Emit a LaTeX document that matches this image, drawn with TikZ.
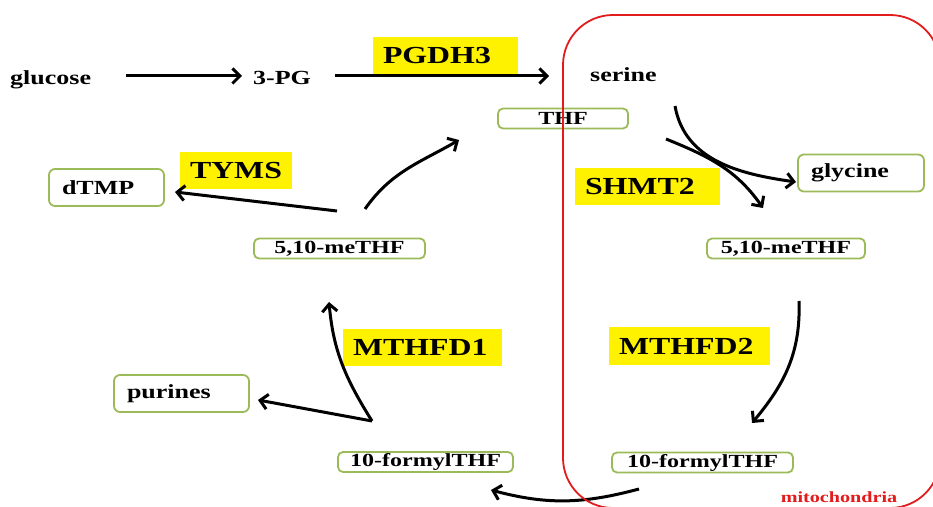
\documentclass[tikz,border=0pt]{standalone}
\usepackage{fontspec}
\setmainfont{Liberation Serif}[FakeStretch=1.3]
\usetikzlibrary{arrows.meta}
\definecolor{boxgreen}{RGB}{155,187,89}
\definecolor{mitored}{RGB}{226,28,28}

\tikzset{
metab/.style={font=\bfseries\fontsize{20}{24}\selectfont, inner sep=0pt, anchor=base west},
pool/.style={draw=boxgreen, line width=1.8pt, rounded corners=5pt, font=\bfseries\fontsize{18.5}{22}\selectfont, inner sep=1pt, minimum height=20pt},
endbox/.style={draw=boxgreen, line width=1.8pt, rounded corners=6pt, font=\bfseries\fontsize{20}{24}\selectfont, inner xsep=13pt, inner ysep=0pt, align=left, minimum height=37pt},
enzyme/.style={fill=yellow, font=\bfseries\fontsize{24.5}{28}\selectfont, inner xsep=10pt, inner ysep=0pt, align=left, minimum height=37pt},
flow/.style={line width=3pt, -{Straight Barb[length=7.5pt,width=15pt]}},
}

\begin{document}
\begin{tikzpicture}[x=1pt, y=1pt]
\useasboundingbox (0,0) rectangle (933,506);

% metabolites
\node[metab] (glucose) at (10,421) {glucose};
\node[metab] (pg) at (253,421) {3-PG};
\node[metab] (serine) at (590,424) {serine};
\node[pool, minimum width=130pt] (thf) at (563,387.5) {THF};
\node[endbox, text width=100pt] (glycine) at (861,333) {glycine};
\node[endbox, text width=89pt] (dtmp) at (106.5,318.5) {dTMP};
\node[endbox, text width=109pt] (purines) at (181.5,112.5) {purines};
\node[pool, minimum width=171pt] (methfcyt) at (339.5,257.5) {5,10-meTHF};
\node[pool, minimum width=158pt] (methfmit) at (786,257.5) {5,10-meTHF};
\node[pool, minimum width=175pt] (fthfcyt) at (425.5,44) {10-formylTHF};
\node[pool, minimum width=181pt] (fthfmit) at (702.5,43.5) {10-formylTHF};

% enzymes
\node[enzyme, text width=125pt] (pgdh) at (445.5,450.5) {PGDH3};
\node[enzyme, text width=92pt] (tyms) at (236,335) {TYMS};
\node[enzyme, text width=125pt] (shmt) at (647.5,319) {SHMT2};
\node[enzyme, text width=139pt] (mthfdone) at (422.5,158.5) {MTHFD1};
\node[enzyme, text width=141pt] (mthfdtwo) at (689.5,160) {MTHFD2};

% arrow ends
\coordinate (glu-out) at (126,430);
\coordinate (pg-in) at (242,430);
\coordinate (pg-out) at (335,430);
\coordinate (ser-in) at (549,430);
\coordinate (ser-out) at (675,400);
\coordinate (gly-in) at (796,324);
\coordinate (thf-out) at (666,367);
\coordinate (methfmit-in) at (763,298);
\coordinate (methfmit-out) at (799,205);
\coordinate (fthfmit-in) at (752,83);
\coordinate (fthfmit-out) at (639,17);
\coordinate (fthfcyt-in) at (491,16);
\coordinate (fthfcyt-out) at (372,85);
\coordinate (methfcyt-in) at (329,204);
\coordinate (pur-in) at (258,106);
\coordinate (methfcyt-out) at (337,295);
\coordinate (dtmp-in) at (175,314);
\coordinate (methfcyt-up) at (365,297);
\coordinate (thf-in) at (459,366);

\draw[flow] (glu-out) -- (pg-in);
\draw[flow] (pg-out) -- (ser-in);
\draw[flow] (ser-out) to[out=-80, in=172] (gly-in);
\draw[flow] (thf-out) to[out=-22, in=125] (methfmit-in);
\draw[flow] (methfmit-out) to[out=-88, in=50] (fthfmit-in);
\draw[flow] (fthfmit-out) to[out=-165, in=-15] (fthfcyt-in);
\draw[flow] (fthfcyt-out) to[out=122, in=-85] (methfcyt-in);
\draw[flow] (fthfcyt-out) -- (pur-in);
\draw[flow] (methfcyt-out) -- (dtmp-in);
\draw[flow] (methfcyt-up) to[out=55, in=210] (thf-in);

% mitochondria
\draw[mitored, line width=1.8pt, rounded corners=50pt] (563,-2) rectangle (940,491);
\node[font=\bfseries\fontsize{15.5}{18}\selectfont, text=mitored, anchor=base, inner sep=0pt] (mito) at (839,4) {mitochondria};
\end{tikzpicture}
\end{document}
